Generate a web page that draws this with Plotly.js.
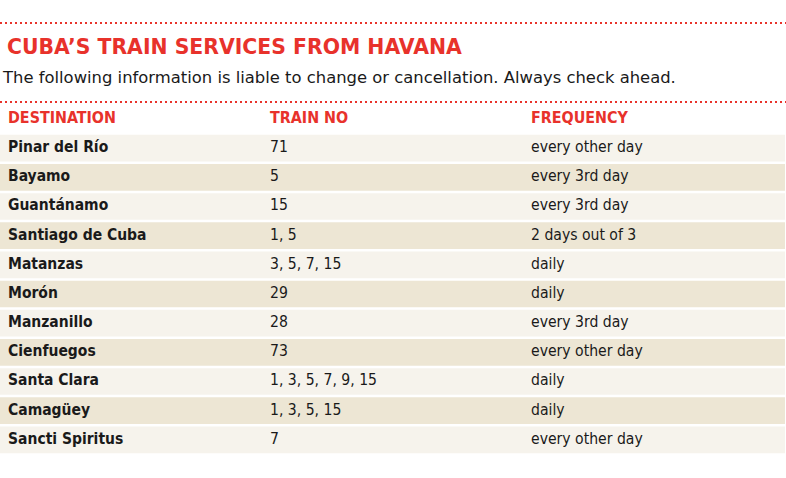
<!DOCTYPE html>
<html><head><meta charset="utf-8">
<script src="https://cdn.plot.ly/plotly-3.0.1.min.js"></script>
<style>body{margin:0;padding:0;background:#fff;}</style>
</head><body>
<div id="chart" style="width:786px;height:478px;"></div>
<script>
const headers = ["DESTINATION", "TRAIN NO", "FREQUENCY"];
const destinations = ["Pinar del Río", "Bayamo", "Guantánamo", "Santiago de Cuba", "Matanzas", "Morón", "Manzanillo", "Cienfuegos", "Santa Clara", "Camagüey", "Sancti Spiritus"];
const trainNos = ["71", "5", "15", "1, 5", "3, 5, 7, 15", "29", "28", "73", "1, 3, 5, 7, 9, 15", "1, 3, 5, 15", "7"];
const frequencies = ["every other day", "every 3rd day", "every 3rd day", "2 days out of 3", "daily", "daily", "every 3rd day", "every other day", "daily", "daily", "every other day"];

const titleText = "CUBA’S TRAIN SERVICES FROM HAVANA";
const subtitleText = "The following information is liable to change or cancellation. Always check ahead.";

const W = 786, H = 478;
const RED = "#e8322b";
const INK = "#1a1a1a";
const LIGHT = "#f6f3ec", DARK = "#ede6d4";
const colX = [8, 270, 531].map(px => px / 785);   // column text starts, in x-axis units
const rowFills = destinations.map((d, i) => i % 2 === 0 ? LIGHT : DARK);

const cellFont = {family: "DejaVu Sans Condensed", size: 15.6, color: INK};

const traces = [
  {
    type: "bar", orientation: "h",
    y: destinations,
    x: destinations.map(() => 1),
    base: 0,
    marker: {color: rowFills, line: {width: 0}},
    hoverinfo: "skip"
  },
  {
    type: "scatter", mode: "text",
    y: destinations, x: destinations.map(() => colX[0]),
    text: destinations.map(d => "<b>" + d + "</b>"),
    textposition: "middle right",
    textfont: {family: "DejaVu Sans Condensed", size: 15.5, color: INK},
    hoverinfo: "skip", cliponaxis: false
  },
  {
    type: "scatter", mode: "text",
    y: destinations, x: destinations.map(() => colX[1]),
    text: trainNos,
    textposition: "middle right",
    textfont: cellFont,
    hoverinfo: "skip", cliponaxis: false
  },
  {
    type: "scatter", mode: "text",
    y: destinations, x: destinations.map(() => colX[2]),
    text: frequencies,
    textposition: "middle right",
    textfont: cellFont,
    hoverinfo: "skip", cliponaxis: false
  }
];

const layout = {
  width: W, height: H,
  margin: {l: 0, r: 1, t: 132, b: 22},
  paper_bgcolor: "#ffffff",
  plot_bgcolor: "#ffffff",
  showlegend: false,
  bargap: 0.085,
  xaxis: {range: [0, 1], visible: false, fixedrange: true},
  yaxis: {type: "category", autorange: "reversed", visible: false, fixedrange: true},
  shapes: [
    {type: "line", xref: "paper", yref: "paper", x0: 0, x1: 1.002, y0: 1 + (132 - 23) / 324, y1: 1 + (132 - 23) / 324,
     line: {color: RED, width: 2, dash: "2px,3px"}},
    {type: "line", xref: "paper", yref: "paper", x0: 0, x1: 1.002, y0: 1 + (132 - 102) / 324, y1: 1 + (132 - 102) / 324,
     line: {color: RED, width: 2, dash: "2px,3px"}}
  ],
  annotations: [
    {text: "<b>" + titleText + "</b>", xref: "paper", yref: "paper", x: 0, y: 1 + (132 - 47) / 324,
     xanchor: "left", yanchor: "middle", xshift: 5, showarrow: false,
     font: {family: "DejaVu Sans", size: 20.4, color: RED}},
    {text: subtitleText, xref: "paper", yref: "paper", x: 0, y: 1 + (132 - 78) / 324,
     xanchor: "left", yanchor: "middle", xshift: 0, showarrow: false,
     font: {family: "DejaVu Sans", size: 16.4, color: INK}}
  ].concat(headers.map((h, i) => ({
    text: "<b>" + h + "</b>", xref: "x", yref: "paper", x: colX[i], y: 1 + (132 - 117) / 324,
    xanchor: "left", yanchor: "middle", xshift: -2, showarrow: false,
    font: {family: "DejaVu Sans Condensed", size: 15.9, color: RED}
  })))
};

Plotly.newPlot("chart", traces, layout, {displayModeBar: false, staticPlot: true});
</script>
</body></html>
